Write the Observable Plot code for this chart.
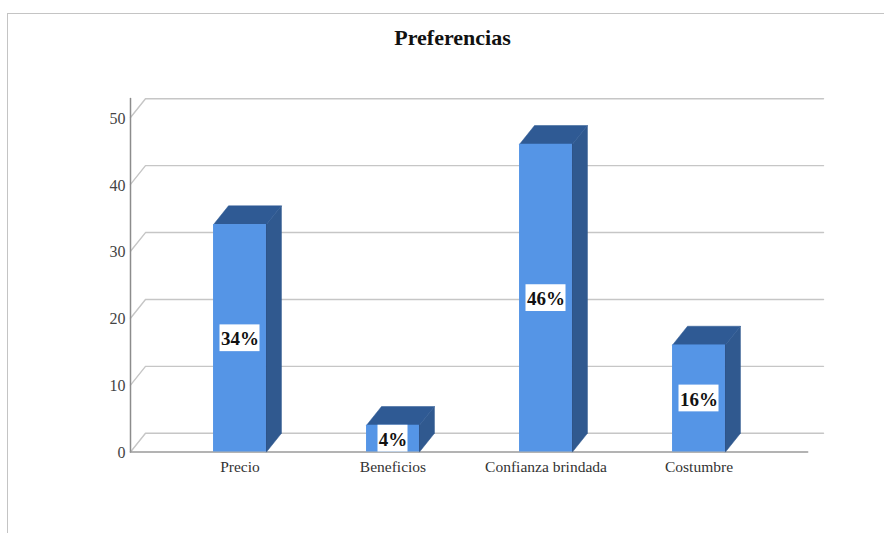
<!DOCTYPE html>
<html>
<head>
<meta charset="utf-8">
<script src="https://cdn.jsdelivr.net/npm/d3@7"></script>
<script src="https://cdn.jsdelivr.net/npm/@observablehq/plot@0.6"></script>
<style>
  html, body { margin: 0; background: #fff; }
  #chart { position: relative; width: 884px; height: 533px; overflow: hidden; }
  #chart svg { position: absolute; left: 0; top: 0; }
  #frame { position: absolute; left: 7px; top: 13px; right: 0; bottom: 0;
           border-left: 1.5px solid #c4c4c4; border-top: 1.5px solid #c4c4c4; }
  h1 { position: absolute; left: 0; width: 905px; top: 25px; margin: 0; text-align: center;
       font: bold 22px/26px "Liberation Serif", serif; color: #111; }
</style>
</head>
<body>
<div id="chart">
  <div id="frame"></div>
  <h1>Preferencias</h1>
</div>
<script>
const categories = ["Precio", "Beneficios", "Confianza brindada", "Costumbre"];
const values = [34, 4, 46, 16];
const yTicks = [0, 10, 20, 30, 40, 50];

// Pseudo-3D geometry, in data units of the two linear scales.
const barHalf = 0.173;
const depthX = 0.098;
const depthY = 2.8;
const wallX = -0.7157;
const floorEnd = 3.71;
const backEnd = 3.8137;

const bars = categories.map((name, i) => ({name, i, value: values[i], label: `${values[i]}%`}));

const polygon = (face, corners) => bars.flatMap(b =>
  corners(b).map(([x, y]) => ({key: `${face}-${b.name}`, x, y})));

const sideFaces = polygon("side", b => [
  [b.i + barHalf, 0],
  [b.i + barHalf + depthX, depthY],
  [b.i + barHalf + depthX, b.value + depthY],
  [b.i + barHalf, b.value]
]);
const topFaces = polygon("top", b => [
  [b.i - barHalf, b.value],
  [b.i - barHalf + depthX, b.value + depthY],
  [b.i + barHalf + depthX, b.value + depthY],
  [b.i + barHalf, b.value]
]);

// Back-wall gridlines with their slanted run down to the value axis.
const gridLines = yTicks.flatMap(t => [
  {t, x: wallX, y: t},
  {t, x: wallX + depthX, y: t + depthY},
  {t, x: backEnd, y: t + depthY}
]);

const boxWidth = b => (b.label.length === 2 ? 30 : 40) / 153;
const boxHalfHeight = 2;

const plot = Plot.plot({
  width: 884,
  height: 533,
  marginLeft: 130,
  marginRight: 61,
  marginTop: 98,
  marginBottom: 81.5,
  style: {background: "transparent", overflow: "visible"},
  x: {type: "linear", domain: [wallX, backEnd], axis: null},
  y: {type: "linear", domain: [0, 52.84], axis: null},
  marks: [
    Plot.line(gridLines, {x: "x", y: "y", z: "t", stroke: "#c6c6c6", strokeWidth: 1.4}),
    Plot.line([{x: wallX, y: 0}, {x: wallX, y: 52.84}], {x: "x", y: "y", stroke: "#8c8c8c", strokeWidth: 1.5}),
    Plot.line([{x: wallX, y: 0}, {x: floorEnd, y: 0}], {x: "x", y: "y", stroke: "#9a9a9a", strokeWidth: 1.6}),
    Plot.line(sideFaces, {x: "x", y: "y", z: "key", fill: "#30598f", stroke: "#30598f", strokeWidth: 0.5}),
    Plot.line(topFaces, {x: "x", y: "y", z: "key", fill: "#2f5a94", stroke: "#2f5a94", strokeWidth: 0.5}),
    Plot.rect(bars, {
      x1: b => b.i - barHalf,
      x2: b => b.i + barHalf,
      y1: 0,
      y2: "value",
      fill: "#5595e6"
    }),
    Plot.ruleX(bars, {x: b => b.i + barHalf, y1: 0, y2: "value", stroke: "#2c5287", strokeWidth: 1}),
    Plot.rect(bars, {
      x1: b => b.i - boxWidth(b) / 2,
      x2: b => b.i + boxWidth(b) / 2,
      y1: b => b.value / 2 - boxHalfHeight,
      y2: b => b.value / 2 + boxHalfHeight,
      fill: "#ffffff"
    }),
    Plot.text(bars, {
      x: "i",
      y: b => b.value / 2,
      text: "label",
      dy: 1,
      fontFamily: "Liberation Serif",
      fontWeight: "bold",
      fontSize: 19,
      fill: "#111"
    }),
    Plot.text(categories, {
      x: (d, i) => i,
      y: 0,
      text: d => d,
      dy: 15,
      fontFamily: "Liberation Serif",
      fontSize: 15.5,
      fill: "#333"
    }),
    Plot.text(yTicks, {
      x: wallX,
      y: d => d,
      text: d => String(d),
      textAnchor: "end",
      dx: -5,
      dy: 1,
      fontFamily: "Liberation Serif",
      fontSize: 16,
      fill: "#444"
    })
  ]
});

document.getElementById("chart").prepend(plot);
</script>
</body>
</html>
